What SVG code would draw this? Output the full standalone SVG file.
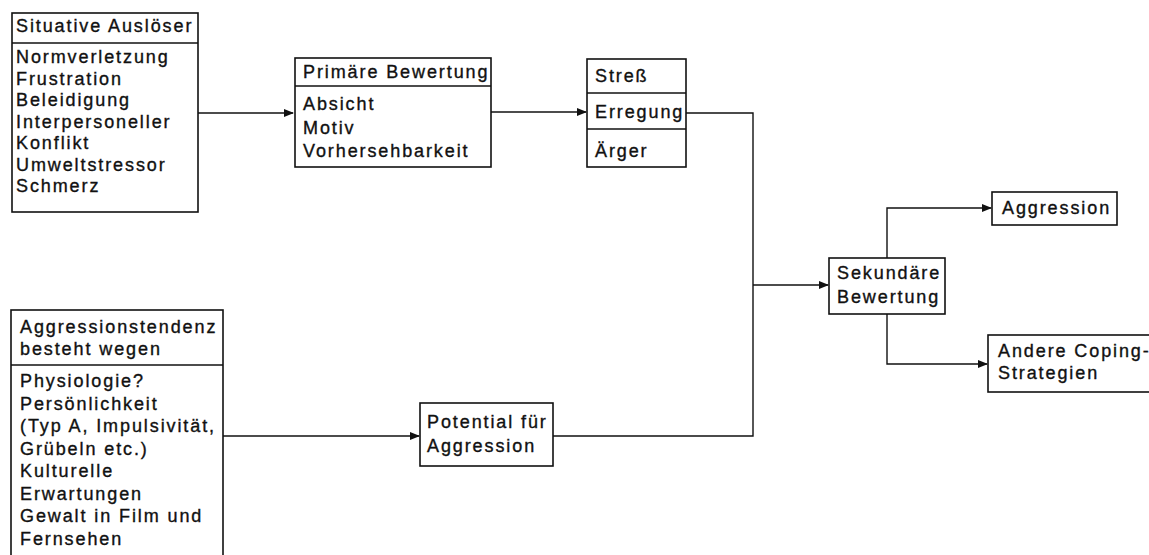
<svg xmlns="http://www.w3.org/2000/svg" width="1149" height="555" viewBox="0 0 1149 555">
<style>
.box{fill:#fff;stroke:#111;stroke-width:1.6}
.div{stroke:#111;stroke-width:1.4}
.t{font-family:"Liberation Sans",Arial,sans-serif;font-size:18px;fill:#111;stroke:#111;stroke-width:0.35;letter-spacing:1.9px}
.c{fill:none;stroke:#111;stroke-width:1.4}
</style>
<defs>
<marker id="ah" markerWidth="10" markerHeight="8" refX="9" refY="4" orient="auto" markerUnits="userSpaceOnUse">
<path d="M0,0 L10,4 L0,8 Z" fill="#111"/>
</marker>
</defs>
<rect width="1149" height="555" fill="#fff"/>
<g id="connectors">
<path class="c" d="M198,113 H293" marker-end="url(#ah)"/>
<path class="c" d="M491,112 H586" marker-end="url(#ah)"/>
<path class="c" d="M686,113 H753 V436 H553"/>
<path class="c" d="M753,285 H828" marker-end="url(#ah)"/>
<path class="c" d="M887,258 V208 H991" marker-end="url(#ah)"/>
<path class="c" d="M887,314 V364 H987" marker-end="url(#ah)"/>
<path class="c" d="M223,436 H419" marker-end="url(#ah)"/>
</g>
<g id="situative">
<rect class="box" x="12" y="13" width="186" height="199"/>
<line class="div" x1="12" y1="43" x2="198" y2="43"/>
<text class="t" x="16" y="32">Situative Auslöser</text>
<text class="t" x="16" y="63">Normverletzung</text>
<text class="t" x="16" y="84.5">Frustration</text>
<text class="t" x="16" y="106">Beleidigung</text>
<text class="t" x="16" y="127.5">Interpersoneller</text>
<text class="t" x="16" y="149">Konflikt</text>
<text class="t" x="16" y="170.5">Umweltstressor</text>
<text class="t" x="16" y="192">Schmerz</text>
</g>
<g id="primaer">
<rect class="box" x="295" y="58" width="196" height="109"/>
<line class="div" x1="295" y1="86" x2="491" y2="86"/>
<text class="t" x="303" y="78">Primäre Bewertung</text>
<text class="t" x="303" y="110">Absicht</text>
<text class="t" x="303" y="134">Motiv</text>
<text class="t" x="303" y="157">Vorhersehbarkeit</text>
</g>
<g id="stress">
<rect class="box" x="587" y="59" width="99" height="108"/>
<line class="div" x1="587" y1="93" x2="686" y2="93"/>
<line class="div" x1="587" y1="129" x2="686" y2="129"/>
<text class="t" x="595" y="82">Streß</text>
<text class="t" x="595" y="118">Erregung</text>
<text class="t" x="595" y="157">Ärger</text>
</g>
<g id="sekundaer">
<rect class="box" x="829" y="258" width="116" height="56"/>
<text class="t" x="837" y="279">Sekundäre</text>
<text class="t" x="837" y="303">Bewertung</text>
</g>
<g id="aggression">
<rect class="box" x="992" y="192" width="125" height="33"/>
<text class="t" x="1002" y="214">Aggression</text>
</g>
<g id="andere">
<rect class="box" x="988" y="335" width="175" height="57"/>
<text class="t" x="998" y="357">Andere Coping-</text>
<text class="t" x="998" y="379">Strategien</text>
</g>
<g id="tendenz">
<rect class="box" x="11" y="310" width="212" height="260"/>
<line class="div" x1="11" y1="365" x2="223" y2="365"/>
<text class="t" x="20" y="333">Aggressionstendenz</text>
<text class="t" x="20" y="355">besteht wegen</text>
<text class="t" x="20" y="387">Physiologie?</text>
<text class="t" x="20" y="409.5">Persönlichkeit</text>
<text class="t" x="20" y="432">(Typ A, Impulsivität,</text>
<text class="t" x="20" y="454.5">Grübeln etc.)</text>
<text class="t" x="20" y="477">Kulturelle</text>
<text class="t" x="20" y="499.5">Erwartungen</text>
<text class="t" x="20" y="522">Gewalt in Film und</text>
<text class="t" x="20" y="544.5">Fernsehen</text>
</g>
<g id="potential">
<rect class="box" x="420" y="403" width="133" height="63"/>
<text class="t" x="427" y="428">Potential für</text>
<text class="t" x="427" y="452">Aggression</text>
</g>
</svg>
